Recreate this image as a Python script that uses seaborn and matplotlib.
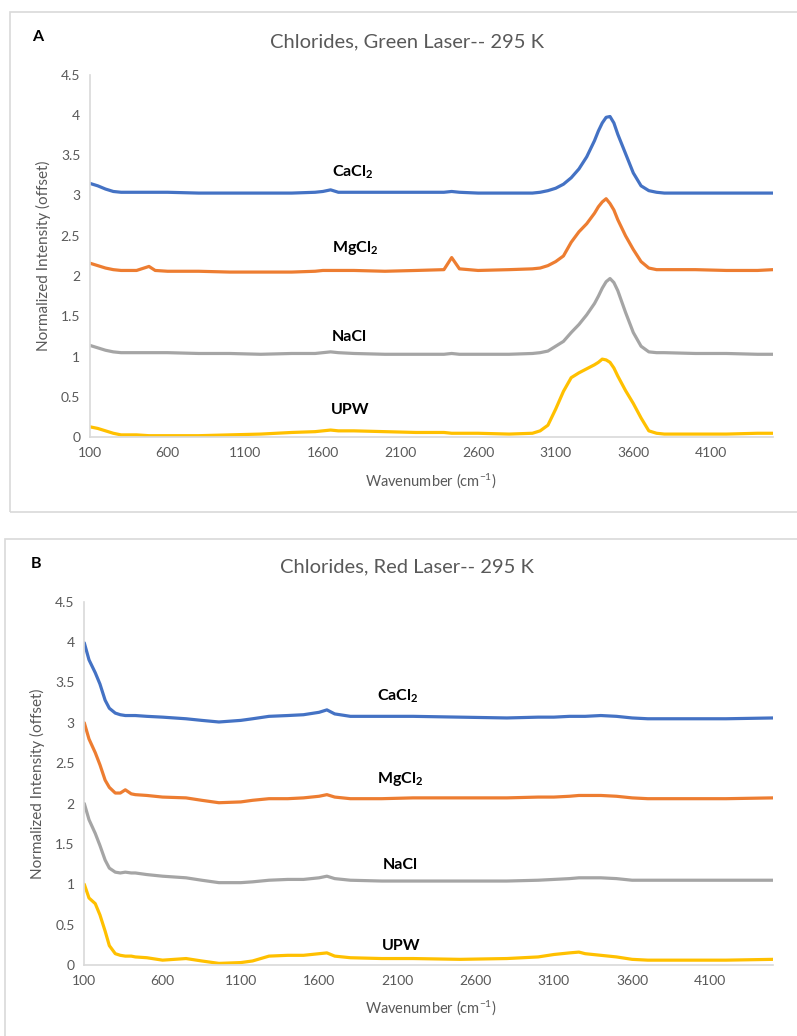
import numpy as np
import pandas as pd
import matplotlib
matplotlib.use("Agg")
import matplotlib.pyplot as plt
import seaborn as sns
from matplotlib.patches import Rectangle

# ---------------- data ----------------
series_names = ["CaCl2", "MgCl2", "NaCl", "UPW"]
series_colors = ["#4472C4", "#ED7D31", "#A5A5A5", "#FFC000"]

# Panel A: green laser
wn_A = [100, 150, 200, 250, 300, 400, 480, 520, 600, 800, 1000, 1200, 1400, 1550,
        1600, 1650, 1700, 1800, 2000, 2200, 2380, 2430, 2480, 2600, 2800, 2950,
        3000, 3050, 3100, 3150, 3200, 3250, 3300, 3350, 3375, 3400, 3425, 3450, 3475,
        3500, 3550, 3600, 3650, 3700, 3750, 3800, 4000, 4200, 4400, 4500]
cacl2_A = [3.15, 3.12, 3.08, 3.05, 3.04, 3.04, 3.04, 3.04, 3.04, 3.03, 3.03, 3.03, 3.03, 3.04,
           3.05, 3.07, 3.04, 3.04, 3.04, 3.04, 3.04, 3.05, 3.04, 3.03, 3.03, 3.03,
           3.04, 3.06, 3.09, 3.14, 3.22, 3.33, 3.48, 3.68, 3.80, 3.90, 3.97, 3.98, 3.90,
           3.76, 3.52, 3.28, 3.12, 3.06, 3.04, 3.03, 3.03, 3.03, 3.03, 3.03]
mgcl2_A = [2.16, 2.13, 2.10, 2.08, 2.07, 2.07, 2.12, 2.07, 2.06, 2.06, 2.05, 2.05, 2.05, 2.06,
           2.07, 2.07, 2.07, 2.07, 2.06, 2.07, 2.08, 2.23, 2.09, 2.07, 2.08, 2.09,
           2.10, 2.13, 2.18, 2.25, 2.42, 2.55, 2.65, 2.78, 2.86, 2.92, 2.96, 2.90, 2.82,
           2.70, 2.50, 2.33, 2.18, 2.10, 2.08, 2.08, 2.08, 2.07, 2.07, 2.08]
nacl_A = [1.14, 1.11, 1.08, 1.06, 1.05, 1.05, 1.05, 1.05, 1.05, 1.04, 1.04, 1.03, 1.04, 1.04,
          1.05, 1.06, 1.05, 1.04, 1.03, 1.03, 1.03, 1.04, 1.03, 1.03, 1.03, 1.04,
          1.05, 1.07, 1.13, 1.19, 1.30, 1.40, 1.52, 1.66, 1.75, 1.85, 1.93, 1.97, 1.92,
          1.82, 1.55, 1.30, 1.13, 1.06, 1.05, 1.05, 1.04, 1.04, 1.03, 1.03]
upw_A = [0.13, 0.11, 0.08, 0.05, 0.03, 0.03, 0.02, 0.02, 0.02, 0.02, 0.03, 0.04, 0.06, 0.07,
         0.08, 0.09, 0.08, 0.08, 0.07, 0.06, 0.06, 0.05, 0.05, 0.05, 0.04, 0.05,
         0.08, 0.15, 0.35, 0.57, 0.74, 0.80, 0.85, 0.90, 0.93, 0.97, 0.96, 0.93, 0.86,
         0.76, 0.58, 0.42, 0.24, 0.08, 0.05, 0.04, 0.04, 0.04, 0.05, 0.05]

# Panel B: red laser
wn_B = [100, 130, 170, 200, 233, 260, 298, 330, 362, 400, 426, 500, 600, 750, 850, 960,
        1100, 1175, 1280, 1400, 1500, 1600, 1650, 1700, 1800, 2000, 2200, 2500, 2800,
        3000, 3100, 3200, 3260, 3300, 3400, 3500, 3600, 3700, 4000, 4200, 4500]
cacl2_B = [3.99, 3.78, 3.62, 3.48, 3.28, 3.18, 3.12, 3.10, 3.09, 3.09, 3.09, 3.08, 3.07, 3.05, 3.03, 3.01,
           3.03, 3.05, 3.08, 3.09, 3.10, 3.13, 3.16, 3.11, 3.08, 3.08, 3.08, 3.07, 3.06,
           3.07, 3.07, 3.08, 3.08, 3.08, 3.09, 3.08, 3.06, 3.05, 3.05, 3.05, 3.06]
mgcl2_B = [3.00, 2.80, 2.63, 2.48, 2.29, 2.20, 2.13, 2.13, 2.17, 2.12, 2.11, 2.10, 2.08, 2.07, 2.04, 2.01,
           2.02, 2.04, 2.06, 2.06, 2.07, 2.09, 2.11, 2.08, 2.06, 2.06, 2.07, 2.07, 2.07,
           2.08, 2.08, 2.09, 2.10, 2.10, 2.10, 2.09, 2.07, 2.06, 2.06, 2.06, 2.07]
nacl_B = [2.00, 1.80, 1.63, 1.48, 1.30, 1.20, 1.15, 1.14, 1.15, 1.14, 1.14, 1.12, 1.10, 1.08, 1.05, 1.02,
          1.02, 1.03, 1.05, 1.06, 1.06, 1.08, 1.10, 1.07, 1.05, 1.04, 1.04, 1.04, 1.04,
          1.05, 1.06, 1.07, 1.08, 1.08, 1.08, 1.07, 1.05, 1.05, 1.05, 1.05, 1.05]
upw_B = [1.00, 0.83, 0.76, 0.62, 0.42, 0.24, 0.14, 0.12, 0.11, 0.11, 0.10, 0.09, 0.06, 0.08, 0.05, 0.02,
         0.03, 0.05, 0.11, 0.12, 0.12, 0.14, 0.15, 0.11, 0.09, 0.08, 0.08, 0.07, 0.08,
         0.10, 0.13, 0.15, 0.16, 0.14, 0.12, 0.10, 0.07, 0.06, 0.06, 0.06, 0.07]

titles = ["Chlorides, Green Laser-- 295 K", "Chlorides, Red Laser-- 295 K"]
panel_letters = ["A", "B"]
x_ticks = [100, 600, 1100, 1600, 2100, 2600, 3100, 3600, 4100]
y_ticks = [0, 0.5, 1, 1.5, 2, 2.5, 3, 3.5, 4, 4.5]
y_tick_labels = ["0", "0.5", "1", "1.5", "2", "2.5", "3", "3.5", "4", "4.5"]
label_texts = [r"CaCl$_\mathbf{2}$", r"MgCl$_\mathbf{2}$", "NaCl", "UPW"]
# label positions (wavenumber, intensity) per panel
label_pos_A = [(1790, 3.29), (1810, 2.35), (1770, 1.25), (1775, 0.34)]
label_pos_B = [(2100, 3.33), (2120, 2.30), (2120, 1.24), (2125, 0.23)]

# ---------------- styling ----------------
sns.set_style("white")
FONT = "Lato"
plt.rcParams["font.family"] = [FONT, "DejaVu Sans"]
plt.rcParams["mathtext.fontset"] = "custom"
plt.rcParams["mathtext.rm"] = FONT
plt.rcParams["mathtext.bf"] = FONT + ":bold"
plt.rcParams["mathtext.it"] = FONT + ":italic"

TXT = "#595959"
AXC = "#D9D9D9"

W, H = 797, 1036
fig = plt.figure(figsize=(W / 100, H / 100), dpi=100)

def fx(px):
    return px / W

def fy(py):
    return 1 - py / H

# panel borders
for (x0, y0, x1, y1) in [(10, 12, 800, 512), (5, 539, 800, 1040)]:
    fig.patches.append(Rectangle((fx(x0), fy(y1)), fx(x1 - x0), (y1 - y0) / H,
                                 transform=fig.transFigure, fill=False,
                                 edgecolor=AXC, linewidth=1.2))

panels = [
    dict(wn=wn_A, vals=[cacl2_A, mgcl2_A, nacl_A, upw_A], left=90, right=773,
         top=74.6, bottom=437.3, labels=label_pos_A, title_y=42, letter=(38, 37),
         ylab_x=43, xlab_y=481),
    dict(wn=wn_B, vals=[cacl2_B, mgcl2_B, nacl_B, upw_B], left=84.3, right=773,
         top=601.7, bottom=965, labels=label_pos_B, title_y=567, letter=(36, 564),
         ylab_x=37, xlab_y=1008),
]

for i, p in enumerate(panels):
    ax = fig.add_axes([fx(p["left"]), fy(p["bottom"]), (p["right"] - p["left"]) / W,
                       (p["bottom"] - p["top"]) / H])
    rows = []
    for name, vals in zip(series_names, p["vals"]):
        for w, v in zip(p["wn"], vals):
            rows.append((name, w, v))
    df = pd.DataFrame(rows, columns=["series", "wavenumber", "intensity"])
    sns.lineplot(data=df, x="wavenumber", y="intensity", hue="series",
                 hue_order=series_names, palette=series_colors, linewidth=2.3,
                 legend=False, ax=ax, estimator=None, sort=False)
    ax.set_xlim(100, 4500)
    ax.set_ylim(0, 4.5)
    ax.set_xticks(x_ticks)
    ax.set_xticklabels([str(t) for t in x_ticks])
    ax.set_yticks(y_ticks)
    ax.set_yticklabels(y_tick_labels)
    ax.set_xlabel("")
    ax.set_ylabel("")
    for s in ["top", "right"]:
        ax.spines[s].set_visible(False)
    for s in ["left", "bottom"]:
        ax.spines[s].set_color(AXC)
        ax.spines[s].set_linewidth(1.2)
    ax.tick_params(axis="both", colors=AXC, labelcolor=TXT, labelsize=10,
                   length=4, width=1.2, direction="out", pad=3)
    ax.patch.set_alpha(0)

    for txt, (xw, yv), c in zip(label_texts, p["labels"], series_colors):
        ax.text(xw, yv, txt, ha="center", va="center", fontsize=11.5,
                fontweight="bold", color="black")

    fig.text(fx(407), fy(p["title_y"]), titles[i], ha="center", va="center",
             fontsize=14.5, color=TXT)
    fig.text(fx(p["letter"][0]), fy(p["letter"][1]), panel_letters[i], ha="center",
             va="center", fontsize=11.5, fontweight="bold", color="black")
    fig.text(fx(p["ylab_x"]), fy((p["top"] + p["bottom"]) / 2),
             "Normalized Intensity (offset)", rotation=90, ha="center", va="center",
             fontsize=11, color=TXT)
    fig.text(fx(431), fy(p["xlab_y"]), r"Wavenumber (cm$^{\mathrm{-1}}$)", ha="center",
             va="center", fontsize=10.5, color=TXT)

fig.savefig("out.png", dpi=100)
